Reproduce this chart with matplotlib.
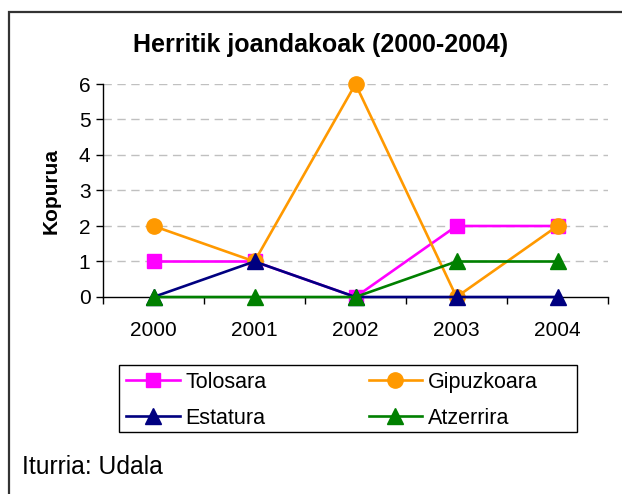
import matplotlib
matplotlib.use("Agg")
import matplotlib.pyplot as plt
from matplotlib.patches import Rectangle
import numpy as np

plt.rcParams['font.family'] = ['Liberation Sans', 'DejaVu Sans']

years = ['2000', '2001', '2002', '2003', '2004']
tolosara = [1, 1, 0, 2, 2]
gipuzkoara = [2, 1, 6, 0, 2]
estatura = [0, 1, 0, 0, 0]
atzerrira = [0, 0, 0, 1, 1]
yticks = [0, 1, 2, 3, 4, 5, 6]

W, H = 622, 494
fig = plt.figure(figsize=(W / 100, H / 100), dpi=100)
ax = fig.add_axes([103 / W, 1 - 297 / H, (608 - 103) / W, (297 - 84) / H])

x = np.arange(len(years))
series = [
    ('Tolosara', tolosara, '#FF00FF', 's', 10),
    ('Gipuzkoara', gipuzkoara, '#FF9900', 'o', 11),
    ('Estatura', estatura, '#000080', '^', 11),
    ('Atzerrira', atzerrira, '#008000', '^', 11),
]
handles = {}
for name, vals, col, mk, ms in series:
    ln, = ax.plot(x, vals, color=col, marker=mk, markersize=ms, lw=1.9,
                  markeredgecolor=col, label=name, clip_on=False, zorder=3)
    handles[name] = ln

ax.set_xlim(-0.5, len(years) - 0.5)
ax.set_ylim(0, 6)
ax.set_yticks(yticks)
ax.set_yticklabels([str(v) for v in yticks], fontsize=15)
ax.set_xticks(x)
ax.set_xticklabels(years, fontsize=15)
ax.set_xticks(np.arange(-0.5, len(years), 1.0), minor=True)
ax.tick_params(axis='x', which='major', length=0, pad=17)
ax.tick_params(axis='x', which='minor', length=5, direction='out', width=1)
ax.tick_params(axis='y', length=5, direction='out', width=1, pad=4)

for s in ['top', 'right']:
    ax.spines[s].set_visible(False)
for s in ['left', 'bottom']:
    ax.spines[s].set_color('black')
    ax.spines[s].set_linewidth(1)

for v in yticks[1:]:
    ax.axhline(v, color='#c0c0c0', lw=1, ls=(0, (6, 4)), zorder=1)

ax.set_ylabel('Kopurua', fontsize=15, fontweight='bold', labelpad=13)

fig.text(321 / W, 1 - 45 / H, 'Herritik joandakoak (2000-2004)', fontsize=18,
         fontweight='bold', ha='center', va='center')

order = ['Tolosara', 'Estatura', 'Gipuzkoara', 'Atzerrira']
leg = fig.legend([handles[n] for n in order], order, loc='upper left',
                 bbox_to_anchor=(126 / W, 1 - 372 / H), bbox_transform=fig.transFigure,
                 ncol=2, fontsize=15.5, frameon=False, handlelength=2.5,
                 handletextpad=0.25, labelspacing=0.68, borderpad=0, borderaxespad=0,
                 columnspacing=4.75)

fig.patches.append(Rectangle((119 / W, 1 - 432 / H), (577 - 119) / W, (432 - 365) / H,
                             transform=fig.transFigure, fill=False, edgecolor='black', lw=1))

fig.text(22 / W, 1 - 467 / H, 'Iturria: Udala', fontsize=17.8, ha='left', va='center')

fig.patches.append(Rectangle((9 / W, -0.2), 2, 1.2 - 12 / H, transform=fig.transFigure,
                             fill=False, edgecolor='#333333', lw=1.6))

fig.savefig('out.png', dpi=100)
